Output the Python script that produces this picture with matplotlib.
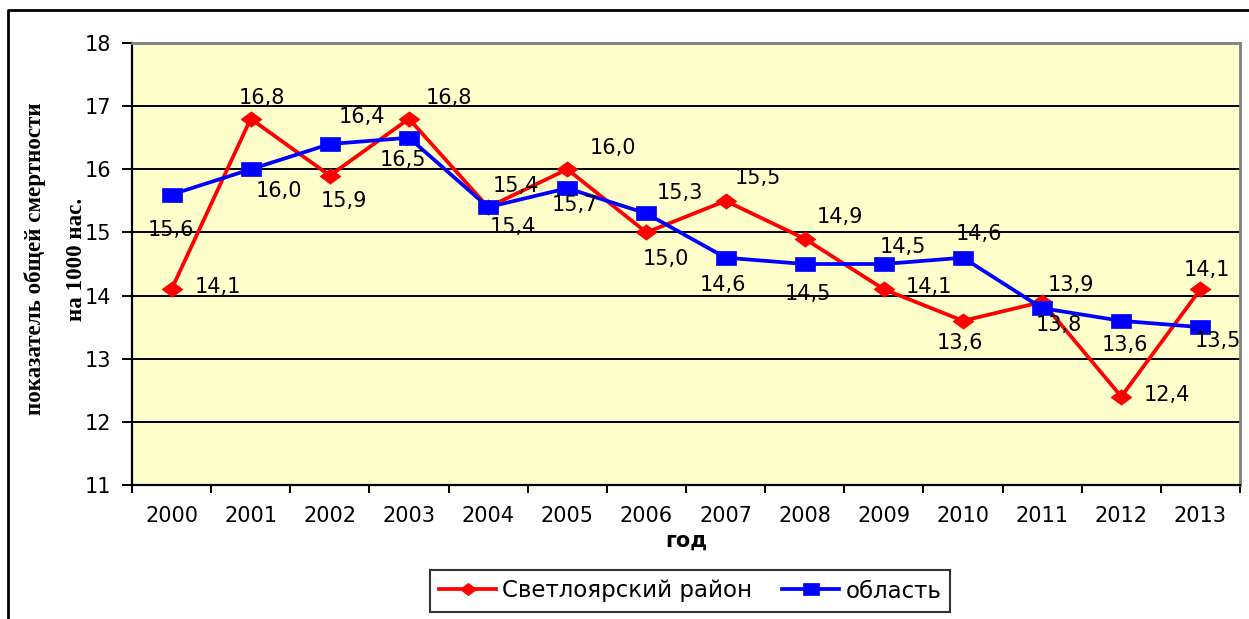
import matplotlib.pyplot as plt
from matplotlib.lines import Line2D
from matplotlib.path import Path
import numpy as np

years = ['2000', '2001', '2002', '2003', '2004', '2005', '2006',
         '2007', '2008', '2009', '2010', '2011', '2012', '2013']
district = [14.1, 16.8, 15.9, 16.8, 15.4, 16.0, 15.0, 15.5, 14.9, 14.1, 13.6, 13.9, 12.4, 14.1]
region = [15.6, 16.0, 16.4, 16.5, 15.4, 15.7, 15.3, 14.6, 14.5, 14.5, 14.6, 13.8, 13.6, 13.5]

# label offsets in pixels (dx, dy), placed by hand like in the original
district_off = [(46, 0), (11, 19), (14, -27), (40, 19), (28, 19), (46, 19), (19, -29),
                (32, 21), (35, 20), (45, 0), (-3, -24), (29, 15), (46, 0), (6, 17)]
region_off = [(-1, -37), (28, -24), (32, 25), (-6, -24), (25, -22), (8, -19), (33, 18),
              (-3, -29), (3, -32), (19, 15), (16, 22), (17, -19), (4, -26), (17, -16)]

plt.rcParams['font.family'] = ['DejaVu Sans']
FS = 15

# wide markers, like the stretched Excel ones
diamond = Path([(-1, 0), (0, 0.74), (1, 0), (0, -0.74), (-1, 0)],
               [Path.MOVETO, Path.LINETO, Path.LINETO, Path.LINETO, Path.CLOSEPOLY])
square = Path([(-1, -0.72), (1, -0.72), (1, 0.72), (-1, 0.72), (-1, -0.72)],
              [Path.MOVETO, Path.LINETO, Path.LINETO, Path.LINETO, Path.CLOSEPOLY])

fig = plt.figure(figsize=(12.49, 6.19), dpi=100)
ax = fig.add_axes([132 / 1249, 1 - 485 / 619, (1240 - 132) / 1249, (485 - 43) / 619])
ax.set_facecolor('#FFFFCC')

x = np.arange(len(years))
ax.plot(x, district, color='#FF0000', lw=2.7, marker=diamond, ms=15, mec='#FF0000', mew=0.5,
        label='Светлоярский район', zorder=3)
ax.plot(x, region, color='#0000FF', lw=2.7, marker=square, ms=15, mec='#0000FF', mew=0.5,
        label='область', zorder=4)

for xi, v, (dx, dy) in zip(x, district, district_off):
    ax.annotate(f'{v:.1f}'.replace('.', ','), (xi, v), xytext=(dx, dy + 2),
                textcoords='offset pixels', ha='center', va='center', fontsize=FS, zorder=5)
for xi, v, (dx, dy) in zip(x, region, region_off):
    ax.annotate(f'{v:.1f}'.replace('.', ','), (xi, v), xytext=(dx, dy + 2),
                textcoords='offset pixels', ha='center', va='center', fontsize=FS, zorder=5)

ax.set_xlim(-0.5, len(years) - 0.5)
ax.set_ylim(11, 18)
ax.set_yticks(range(11, 19))
ax.yaxis.grid(True, color='black', lw=1.4)
ax.set_axisbelow(True)
ax.set_xticks(x)
ax.set_xticklabels(years)
ax.set_xticks(np.arange(-0.5, len(years)), minor=True)
ax.tick_params(axis='x', which='major', length=0, pad=15, labelsize=FS)
ax.tick_params(axis='x', which='minor', length=6, width=1.4)
ax.tick_params(axis='y', length=7, width=1.4, pad=8, labelsize=FS)

for side in ['top', 'right']:
    ax.spines[side].set_color('#808080')
    ax.spines[side].set_linewidth(2)
for side in ['left', 'bottom']:
    ax.spines[side].set_color('black')
    ax.spines[side].set_linewidth(1.6)

ax.set_xlabel('год', fontsize=FS, fontweight='bold', labelpad=3.5)

fig.text(35 / 1249, 1 - 259 / 619, 'показатель общей смертности', rotation=90,
         ha='center', va='center', fontsize=16.6, fontweight='bold', family='Liberation Serif')
fig.text(76 / 1249, 1 - 259 / 619, 'на 1000 нас.', rotation=90,
         ha='center', va='center', fontsize=16.6, fontweight='bold', family='Liberation Serif')

leg = fig.legend(loc='center', bbox_to_anchor=(690 / 1249, 1 - 591 / 619), ncol=2,
                 fontsize=16.5, frameon=True, fancybox=False, edgecolor='black',
                 handlelength=2.5, handletextpad=0.26, columnspacing=1.3,
                 borderpad=0.4, borderaxespad=0)
leg.get_frame().set_linewidth(1.5)
for h in leg.legend_handles:
    h.set_markersize(12)

# outer chart frame (left and top edges visible)
fig.add_artist(Line2D([8 / 1249, 8 / 1249, 1], [0, 1 - 10 / 619, 1 - 10 / 619],
                      transform=fig.transFigure, color='black', lw=2))

fig.savefig('out.png', dpi=100)
